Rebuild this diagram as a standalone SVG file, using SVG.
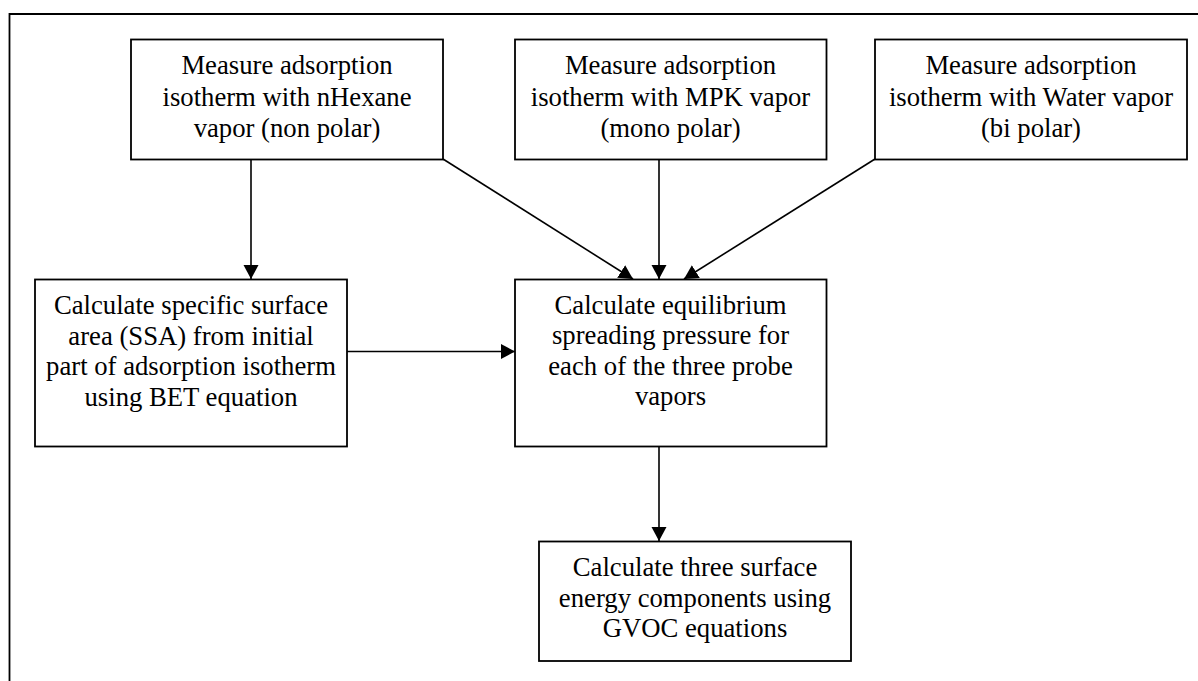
<svg xmlns="http://www.w3.org/2000/svg" width="1198" height="681" viewBox="0 0 1198 681">
<style>
.box{fill:#fff;stroke:#000;stroke-width:1.8}
.lbl{font-family:"Liberation Serif","Times New Roman",serif;font-size:26.7px;fill:#000;text-anchor:middle}
.conn line{stroke:#000;stroke-width:1.6;fill:none}
</style>
<defs>
<marker id="ah" markerUnits="userSpaceOnUse" markerWidth="16" markerHeight="16" refX="14" refY="7.5" orient="auto">
<path d="M0,0 L14,7.5 L0,15 z" fill="#000"/>
</marker>
</defs>
<rect width="1198" height="681" fill="#fff"/>
<path d="M9.5,690 L9.5,14 L1205,14" fill="none" stroke="#000" stroke-width="1.8"/>
<g class="conn">
<line x1="251" y1="159" x2="251" y2="279" marker-end="url(#ah)"/>
<line x1="443" y1="159" x2="633" y2="279" marker-end="url(#ah)"/>
<line x1="659" y1="159" x2="659" y2="279" marker-end="url(#ah)"/>
<line x1="875" y1="159" x2="684" y2="279" marker-end="url(#ah)"/>
<line x1="347" y1="351.5" x2="515" y2="351.5" marker-end="url(#ah)"/>
<line x1="659" y1="447" x2="659" y2="541" marker-end="url(#ah)"/>
</g>
<g id="n1">
<rect class="box" x="131" y="39.5" width="312" height="120"/>
<text class="lbl" x="287" y="74">Measure adsorption</text>
<text class="lbl" x="287" y="105.5">isotherm with nHexane</text>
<text class="lbl" x="287" y="137">vapor (non polar)</text>
</g>
<g id="n2">
<rect class="box" x="515" y="39.5" width="311.5" height="120"/>
<text class="lbl" x="670.5" y="74">Measure adsorption</text>
<text class="lbl" x="670.5" y="105.5">isotherm with MPK vapor</text>
<text class="lbl" x="670.5" y="137">(mono polar)</text>
</g>
<g id="n3">
<rect class="box" x="875" y="39.5" width="312" height="120"/>
<text class="lbl" x="1031" y="74">Measure adsorption</text>
<text class="lbl" x="1031" y="105.5">isotherm with Water vapor</text>
<text class="lbl" x="1031" y="137">(bi polar)</text>
</g>
<g id="n4">
<rect class="box" x="35" y="279.5" width="312" height="167"/>
<text class="lbl" x="191" y="314">Calculate specific surface</text>
<text class="lbl" x="191" y="344.5">area (SSA) from initial</text>
<text class="lbl" x="191" y="375">part of adsorption isotherm</text>
<text class="lbl" x="191" y="405.5">using BET equation</text>
</g>
<g id="n5">
<rect class="box" x="515" y="279.5" width="311.5" height="167"/>
<text class="lbl" x="670.5" y="313.5">Calculate equilibrium</text>
<text class="lbl" x="670.5" y="344">spreading pressure for</text>
<text class="lbl" x="670.5" y="374.5">each of the three probe</text>
<text class="lbl" x="670.5" y="405">vapors</text>
</g>
<g id="n6">
<rect class="box" x="539" y="541.5" width="312" height="119.5"/>
<text class="lbl" x="695" y="575.5">Calculate three surface</text>
<text class="lbl" x="695" y="606.5">energy components using</text>
<text class="lbl" x="695" y="637">GVOC equations</text>
</g>
</svg>
